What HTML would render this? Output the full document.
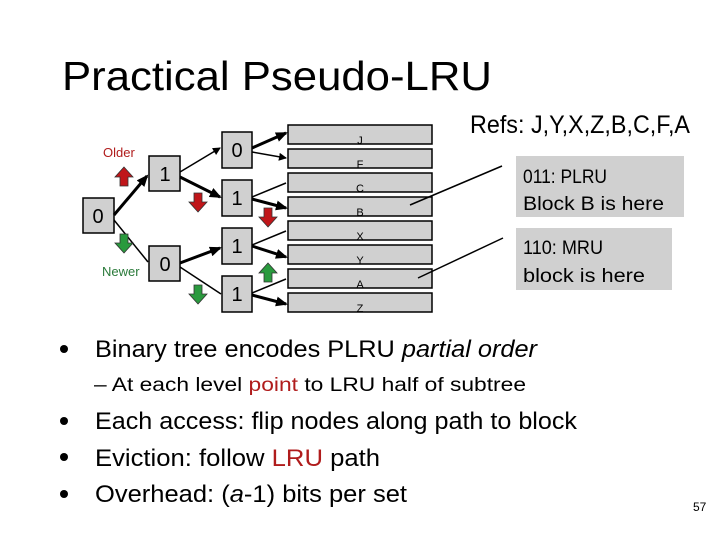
<!DOCTYPE html>
<html><head><style>
html,body{margin:0;padding:0;background:#fff;}
svg{display:block;font-family:"Liberation Sans",sans-serif;}
</style></head><body>
<svg width="720" height="540" viewBox="0 0 720 540" xmlns="http://www.w3.org/2000/svg">
<defs>
<marker id="ah" markerWidth="8" markerHeight="8" refX="7" refY="4" orient="auto" markerUnits="userSpaceOnUse">
<path d="M0,0 L8,4 L0,8 z" fill="#000"/></marker>
<marker id="ahb" markerWidth="12" markerHeight="10" refX="10" refY="5" orient="auto" markerUnits="userSpaceOnUse">
<path d="M0,0 L12,5 L0,10 z" fill="#000"/></marker>
</defs>
<text x="62" y="90" font-size="41" textLength="430" lengthAdjust="spacingAndGlyphs">Practical Pseudo-LRU</text>
<text x="470" y="133" font-size="25" textLength="220" lengthAdjust="spacingAndGlyphs">Refs: J,Y,X,Z,B,C,F,A</text>
<g fill="#d0d0d0" stroke="#000" stroke-width="1.5">
<rect x="288" y="125" width="144" height="19"/><rect x="288" y="149" width="144" height="19"/>
<rect x="288" y="173" width="144" height="19"/><rect x="288" y="197" width="144" height="19"/>
<rect x="288" y="221" width="144" height="19"/><rect x="288" y="245" width="144" height="19"/>
<rect x="288" y="269" width="144" height="19"/><rect x="288" y="293" width="144" height="19"/>
<rect x="83" y="198" width="31" height="35"/>
<rect x="149" y="156" width="31" height="35"/><rect x="149" y="246" width="31" height="35"/>
<rect x="222" y="132" width="30" height="36"/><rect x="222" y="180" width="30" height="36"/>
<rect x="222" y="228" width="30" height="36"/><rect x="222" y="276" width="30" height="36"/>
</g>
<g font-size="11" text-anchor="middle">
<text x="360" y="144">J</text><text x="360" y="168">F</text><text x="360" y="192">C</text><text x="360" y="216">B</text>
<text x="360" y="240">X</text><text x="360" y="264">Y</text><text x="360" y="288">A</text><text x="360" y="312">Z</text>
</g>
<g font-size="20" text-anchor="middle">
<text x="98" y="223">0</text><text x="165" y="181">1</text><text x="165" y="271">0</text>
<text x="237" y="157">0</text><text x="237" y="205">1</text><text x="237" y="253">1</text><text x="237" y="301">1</text>
</g>
<g stroke="#000">
<line x1="114" y1="215" x2="147" y2="176" stroke-width="3" marker-end="url(#ahb)"/>
<line x1="114" y1="220" x2="148" y2="262" stroke-width="1.5"/>
<line x1="180" y1="172" x2="220" y2="148" stroke-width="1.5" marker-end="url(#ah)"/>
<line x1="180" y1="177" x2="220" y2="197" stroke-width="3" marker-end="url(#ahb)"/>
<line x1="180" y1="263" x2="220" y2="248" stroke-width="3" marker-end="url(#ahb)"/>
<line x1="180" y1="267" x2="221" y2="294" stroke-width="1.5"/>
<line x1="252" y1="148" x2="286" y2="133" stroke-width="3" marker-end="url(#ahb)"/>
<line x1="252" y1="152" x2="286" y2="158" stroke-width="1.5" marker-end="url(#ah)"/>
<line x1="252" y1="197" x2="286" y2="183" stroke-width="1.5"/>
<line x1="252" y1="199" x2="286" y2="208" stroke-width="3" marker-end="url(#ahb)"/>
<line x1="252" y1="245" x2="286" y2="231" stroke-width="1.5"/>
<line x1="252" y1="246" x2="286" y2="257" stroke-width="3" marker-end="url(#ahb)"/>
<line x1="252" y1="293" x2="286" y2="279" stroke-width="1.5"/>
<line x1="252" y1="295" x2="286" y2="304" stroke-width="3" marker-end="url(#ahb)"/>
<line x1="410" y1="205" x2="502" y2="166" stroke-width="1.5"/>
<line x1="418" y1="278" x2="503" y2="238" stroke-width="1.5"/>
</g>
<g stroke="#333" stroke-width="0.8">
<path d="M124,167 L133,177 L128,177 L128,186 L120,186 L120,177 L115,177 z" fill="#c0161a"/>
<path d="M198,212 L189,202 L194,202 L194,193 L202,193 L202,202 L207,202 z" fill="#c0161a"/>
<path d="M268,227 L259,217 L264,217 L264,208 L272,208 L272,217 L277,217 z" fill="#c0161a"/>
<path d="M124,253 L115,243 L120,243 L120,234 L128,234 L128,243 L133,243 z" fill="#2a9a3e"/>
<path d="M198,304 L189,294 L194,294 L194,285 L202,285 L202,294 L207,294 z" fill="#2a9a3e"/>
<path d="M268,263 L277,273 L272,273 L272,282 L264,282 L264,273 L259,273 z" fill="#2a9a3e"/>
</g>
<text x="103" y="157" font-size="13" fill="#b01c1c">Older</text>
<text x="102" y="276" font-size="13" fill="#2a7a3a">Newer</text>
<rect x="516" y="156" width="168" height="61" fill="#d0d0d0"/>
<rect x="516" y="228" width="156" height="62" fill="#d0d0d0"/>
<g font-size="19">
<text x="523" y="183" textLength="84" lengthAdjust="spacingAndGlyphs">011: PLRU</text>
<text x="523" y="210" textLength="141" lengthAdjust="spacingAndGlyphs">Block B is here</text>
<text x="523" y="254" textLength="80" lengthAdjust="spacingAndGlyphs">110: MRU</text>
<text x="523" y="282" textLength="122" lengthAdjust="spacingAndGlyphs">block is here</text>
</g>
<g font-size="24">
<circle cx="64" cy="349" r="4"/><circle cx="64" cy="421" r="4"/><circle cx="64" cy="457" r="4"/><circle cx="64" cy="494" r="4"/>
<text x="95" y="357" textLength="442" lengthAdjust="spacingAndGlyphs">Binary tree encodes PLRU <tspan font-style="italic">partial order</tspan></text>
<text x="95" y="429" textLength="482" lengthAdjust="spacingAndGlyphs">Each access: flip nodes along path to block</text>
<text x="95" y="466" textLength="285" lengthAdjust="spacingAndGlyphs">Eviction: follow <tspan fill="#b01c1c">LRU</tspan> path</text>
<text x="95" y="502" textLength="312" lengthAdjust="spacingAndGlyphs">Overhead: (<tspan font-style="italic">a</tspan>-1) bits per set</text>
</g>
<text x="94" y="391" font-size="19" textLength="432" lengthAdjust="spacingAndGlyphs">–  At each level <tspan fill="#b01c1c">point</tspan> to LRU half of subtree</text>
<text x="693" y="511" font-size="12">57</text>
</svg>
</body></html>
